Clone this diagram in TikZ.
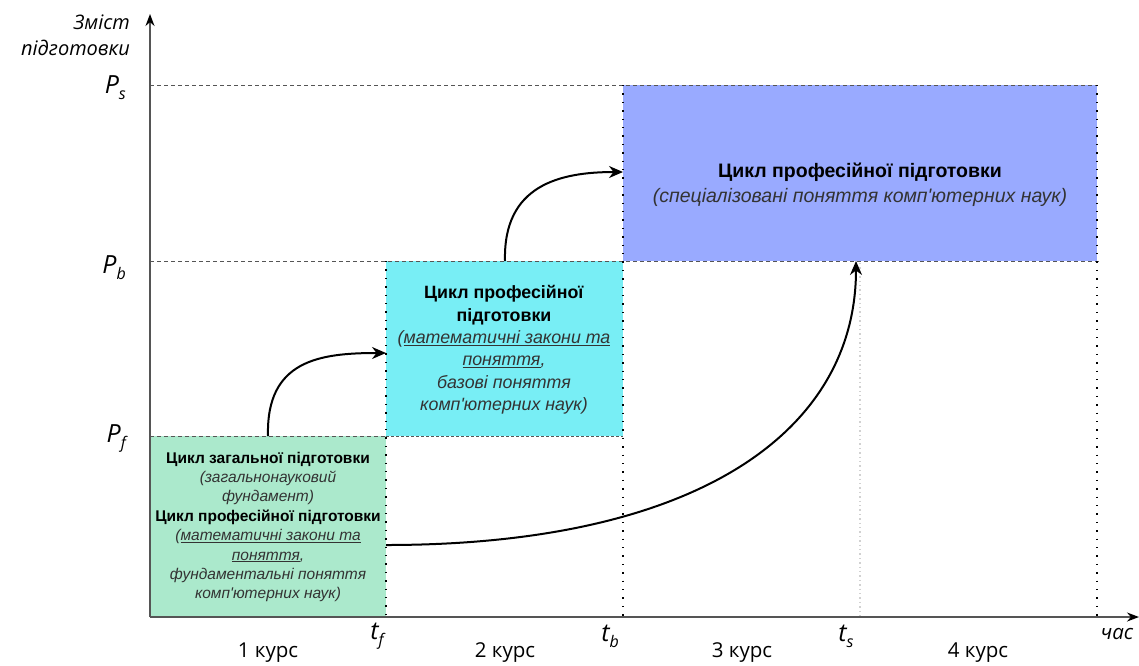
\documentclass[tikz,border=0pt]{standalone}
\usepackage{fontspec}
\setmainfont{Liberation Sans}
\newfontfamily\bxfont{Liberation Sans}
\newfontfamily\lblfont{Open Sans}
\usetikzlibrary{arrows.meta}
\definecolor{gfill}{HTML}{ABE9CC}
\definecolor{cfill}{HTML}{78EEF5}
\definecolor{bfill}{HTML}{99AAFF}
\definecolor{itc}{HTML}{333333}
\definecolor{axc}{HTML}{555555}
\newcommand{\ulx}[1]{\underline{#1}}
\newcommand{\sbs}[1]{\raisebox{-6pt}{\fontsize{16}{16}\selectfont #1}}
\tikzset{
  boxfill/.style={draw=axc, line width=0.8pt, dash pattern=on 3pt off 2pt},
  hdash/.style={draw=axc, line width=1pt, dash pattern=on 4pt off 3pt},
  vdot/.style={draw=black, line width=1.6pt, dash pattern=on 1.4pt off 7pt},
  vdotlight/.style={draw=black!18, line width=1.4pt, dash pattern=on 1.4pt off 3pt},
  axis/.style={draw=axc, line width=1.5pt, -{Stealth[length=12pt,width=9pt,color=black]}},
  flow/.style={draw=black, line width=2pt, -{Stealth[length=14pt,width=12pt]}},
  lbl/.style={font=\lblfont\itshape\fontsize{20}{26}\selectfont, text=black, inner sep=0pt},
  plbl/.style={font=\lblfont\itshape\fontsize{25}{26}\selectfont, text=black, inner sep=0pt},
  kurs/.style={font=\lblfont\fontsize{20.5}{24}\selectfont, text=black, inner sep=0pt},
  txt/.style={align=center, inner sep=0pt, text=black},
}
\begin{document}
\begin{tikzpicture}[x=1pt,y=-1pt]
\useasboundingbox (0,0) rectangle (1139,665);
% boxes
\fill[gfill] (150,436) rectangle (386,617);
\fill[cfill] (386,261) rectangle (623,436);
\fill[bfill] (623,85) rectangle (1097,261);
\draw[boxfill] (386,436) -- (623,436);
% horizontal guide lines
\coordinate (ps0) at (150,85);  \coordinate (ps1) at (1097,85);
\coordinate (pb0) at (150,261); \coordinate (pb1) at (1100,261);
\coordinate (pf0) at (150,436); \coordinate (pf1) at (386,436);
\draw[hdash] (ps0) -- (ps1);
\draw[hdash] (pb0) -- (pb1);
\draw[hdash] (pf0) -- (pf1);
% vertical guide lines
\coordinate (tf0) at (386,261); \coordinate (tf1) at (386,617);
\coordinate (tb0) at (623,85);  \coordinate (tb1) at (623,617);
\coordinate (ts0) at (860,263); \coordinate (ts1) at (860,617);
\coordinate (te0) at (1097,85); \coordinate (te1) at (1097,617);
\draw[vdotlight] (ts0) -- (ts1);
\draw[vdot] (tf0) -- (tf1);
\draw[vdot] (tb0) -- (tb1);
\draw[vdot] (te0) -- (te1);
% axes
\coordinate (o) at (150,617);
\coordinate (ytop) at (150,14);
\coordinate (xend) at (1139,617);
\draw[axis] (o) -- (ytop);
\draw[axis] (o) -- (xend);
% axis labels
\node[lbl, anchor=east, align=right] (ylab) at (130,35) {Зміст\\підготовки};
\node[plbl, anchor=east] (lps) at (126,88) {P\sbs{s}};
\node[plbl, anchor=east] (lpb) at (126,268) {P\sbs{b}};
\node[plbl, anchor=east] (lpf) at (126,438) {P\sbs{f}};
\node[plbl, anchor=center] (ltf) at (377,636) {t\sbs{f}};
\node[plbl, anchor=center] (ltb) at (610,636) {t\sbs{b}};
\node[plbl, anchor=center] (lts) at (846,636) {t\sbs{s}};
\node[lbl, font=\lblfont\itshape\fontsize{20.5}{24}\selectfont] (lch) at (1117,634) {час};
\node[kurs] (k1) at (268,653) {1 курс};
\node[kurs] (k2) at (505,653) {2 курс};
\node[kurs] (k3) at (742,653) {3 курс};
\node[kurs] (k4) at (978,653) {4 курс};
% box texts
\node[txt, font=\bxfont\fontsize{15.5}{19.4}\selectfont] (tg) at (268,527) {%
\textbf{Цикл загальної підготовки}\\
{\color{itc}\itshape (загальнонауковий}\\
{\color{itc}\itshape фундамент)}\\
\textbf{Цикл професійної підготовки}\\
{\color{itc}\itshape (\ulx{математичні закони та}}\\
{\color{itc}\itshape \ulx{поняття},}\\
{\color{itc}\itshape фундаментальні поняття}\\
{\color{itc}\itshape комп'ютерних наук)}};
\node[txt, font=\bxfont\fontsize{17.8}{22.4}\selectfont] (tc) at (504,350) {%
\textbf{Цикл професійної}\\
\textbf{підготовки}\\
{\color{itc}\itshape (\ulx{математичні закони та}}\\
{\color{itc}\itshape \ulx{поняття},}\\
{\color{itc}\itshape базові поняття}\\
{\color{itc}\itshape комп'ютерних наук)}};
\node[txt, font=\bxfont\fontsize{19.5}{25}\selectfont] (tbx) at (860,185) {%
\textbf{Цикл професійної підготовки}\\
{\color{itc}\itshape (спеціалізовані поняття комп'ютерних наук)}};
% flow arrows
\coordinate (a1s) at (268,436); \coordinate (a1e) at (386,353);
\coordinate (a2s) at (505,261); \coordinate (a2e) at (623,172);
\coordinate (a3s) at (386,545); \coordinate (a3e) at (856,261);
\draw[flow] (a1s) .. controls (266,360) and (320,353) .. (a1e);
\draw[flow] (a2s) .. controls (503,185) and (560,172) .. (a2e);
\draw[flow] (a3s) .. controls (700,545) and (856,430) .. (a3e);
\end{tikzpicture}
\end{document}
